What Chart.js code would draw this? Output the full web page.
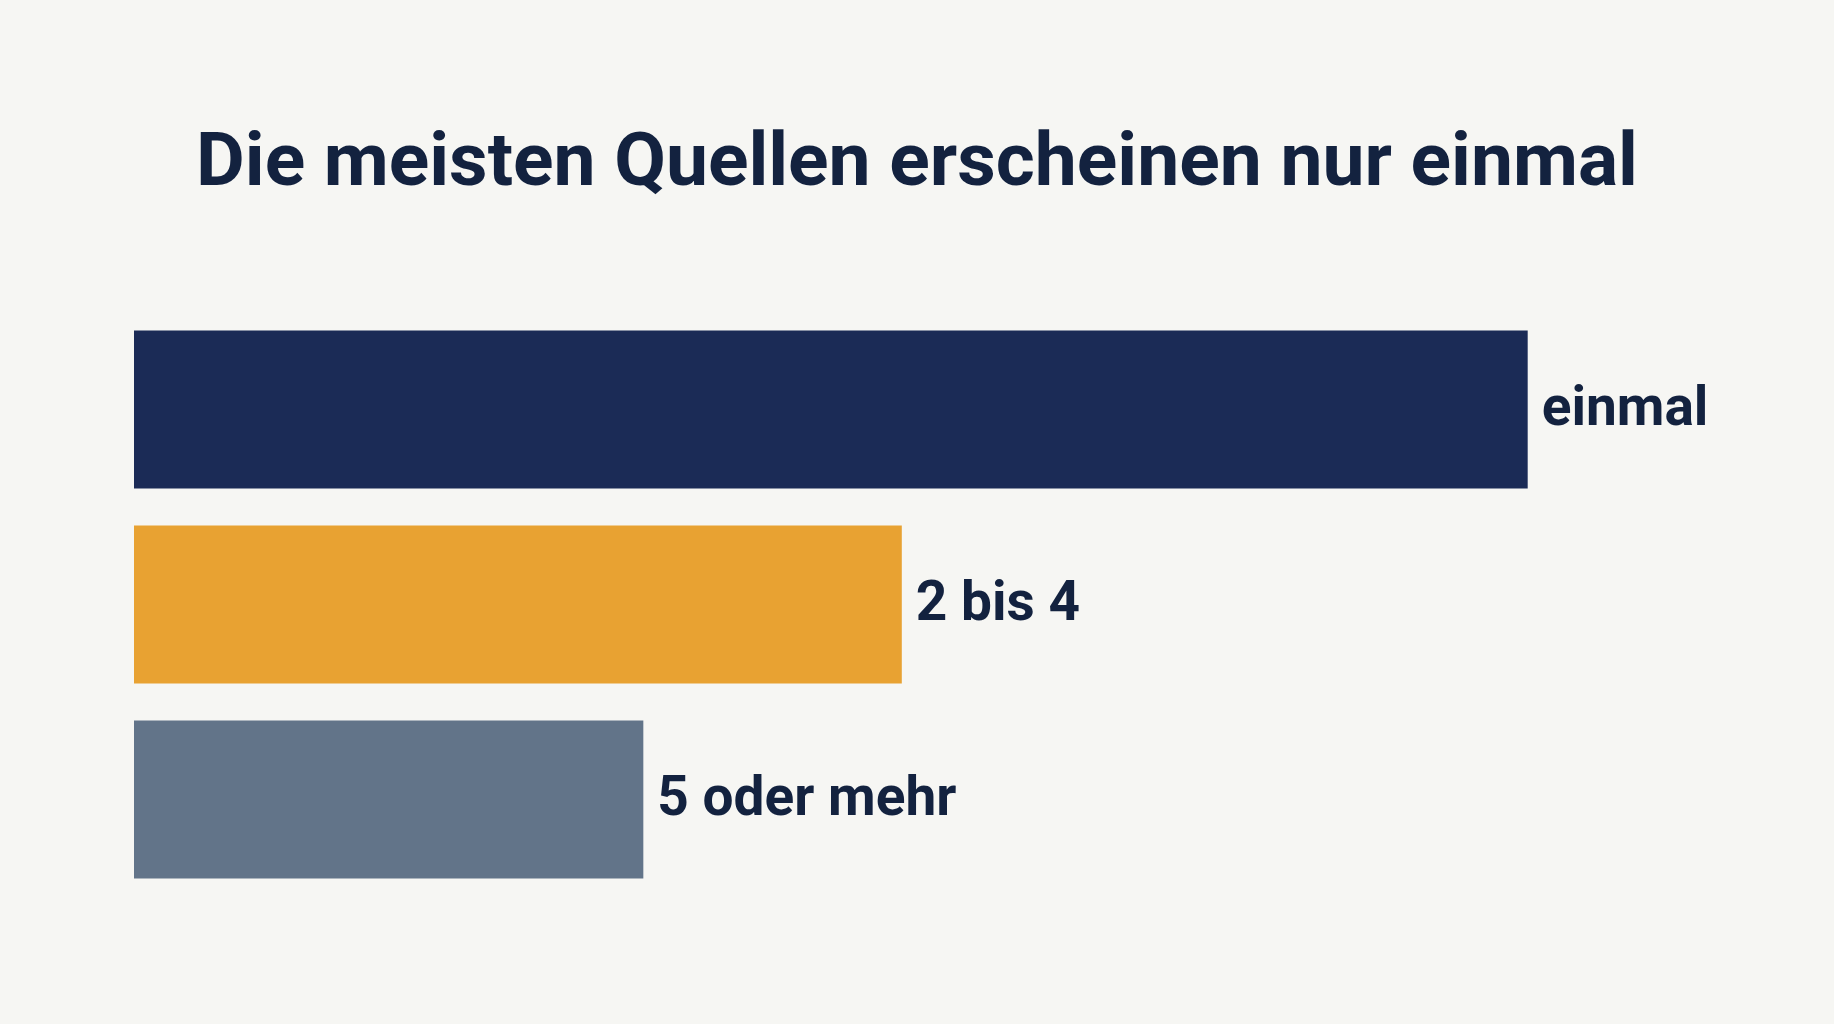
<!DOCTYPE html>
<html lang="de">
<head>
<meta charset="utf-8">
<title>Die meisten Quellen erscheinen nur einmal</title>
<script src="https://cdn.jsdelivr.net/npm/chart.js@4.4.1/dist/chart.umd.min.js"></script>
<style>
  html, body { margin: 0; padding: 0; background: #f6f6f3; }
  #wrap { width: 1834px; height: 1024px; position: relative; }
</style>
</head>
<body>
<div id="wrap"><canvas id="grafico"></canvas></div>
<script>
// Daten (aus dem Bild geschätzt, relative Balkenlängen)
const kategorien = ['einmal', '2 bis 4', '5 oder mehr'];
const werte = [55, 30.3, 20.1];
const farben = ['#1b2b56', '#e8a232', '#627489'];

const textFarbe = '#13223f';

// Beschriftung rechts neben jedem Balken
const balkenLabels = {
    id: 'balkenLabels',
    afterDatasetsDraw(chart) {
        const ctx = chart.ctx;
        const meta = chart.getDatasetMeta(0);
        ctx.save();
        ctx.font = 'bold 55px Roboto';
        ctx.fillStyle = textFarbe;
        ctx.textAlign = 'left';
        ctx.textBaseline = 'middle';
        meta.data.forEach((bar, i) => {
            ctx.fillText(kategorien[i], bar.x + 14, bar.y + 2);
        });
        ctx.restore();
    }
};

new Chart(document.getElementById('grafico'), {
    type: 'bar',
    data: {
        labels: kategorien,
        datasets: [{
            data: werte,
            backgroundColor: farben,
            borderWidth: 0,
            barPercentage: 0.81,
            categoryPercentage: 1
        }]
    },
    options: {
        indexAxis: 'y',
        responsive: true,
        maintainAspectRatio: false,
        animation: false,
        layout: {
            // symmetrisch, damit der Titel mittig sitzt
            padding: { left: 134, right: 134, top: 0, bottom: 127 }
        },
        scales: {
            // Platz rechts für die Beschriftung
            x: { display: false, min: 0, max: 61.8 },
            y: { display: false }
        },
        plugins: {
            legend: { display: false },
            tooltip: { enabled: false },
            title: {
                display: true,
                text: 'Die meisten Quellen erscheinen nur einmal',
                color: textFarbe,
                font: { family: 'Roboto', size: 75, weight: 'bold', lineHeight: 1.2 },
                padding: { top: 121, bottom: 101 }
            }
        }
    },
    plugins: [balkenLabels]
});
</script>
</body>
</html>
